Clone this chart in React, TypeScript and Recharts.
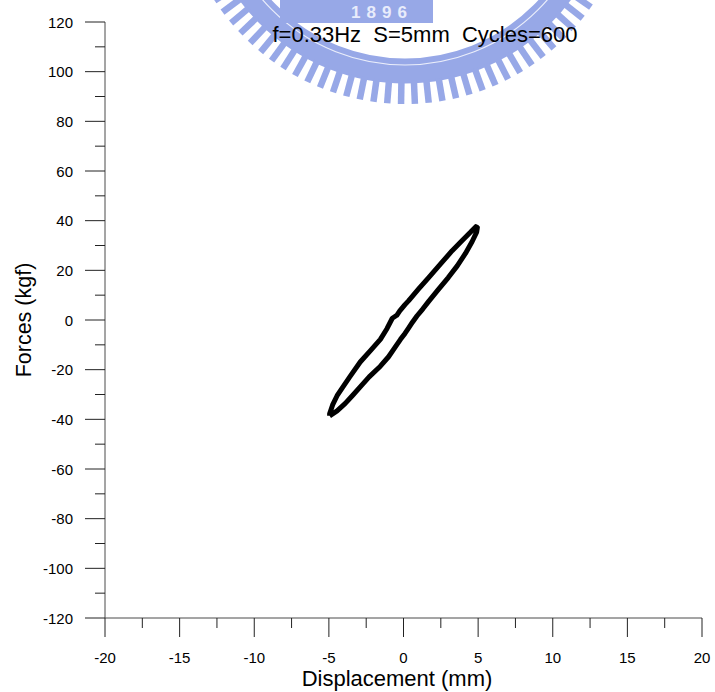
import React from "react";
import { Line, LineChart, XAxis, YAxis } from "recharts";

const WIDTH = 715;
const HEIGHT = 692;
const FONT = '"Liberation Sans", Arial, sans-serif';
const INK = "#000000";
const AXIS_LINE = "#4a4a4a";
const TICK = "#222222";
const SEAL = "#97a8e7";

const TITLE = "f=0.33Hz  S=5mm  Cycles=600";

const X_TICKS = [
  -20, -17.5, -15, -12.5, -10, -7.5, -5, -2.5, 0, 2.5, 5, 7.5, 10, 12.5, 15,
  17.5, 20,
];
const X_LABELED = [-20, -15, -10, -5, 0, 5, 10, 15, 20];
const Y_TICKS = [
  -120, -110, -100, -90, -80, -70, -60, -50, -40, -30, -20, -10, 0, 10, 20, 30,
  40, 50, 60, 70, 80, 90, 100, 110, 120,
];
const Y_LABELED = [-120, -100, -80, -60, -40, -20, 0, 20, 40, 60, 80, 100, 120];

// hysteresis loop: loading branch up the right side, unloading back down the left
const DISP = [
  -4.95, -4.7, -4.45, -3.9, -3.4, -2.9, -2.3, -1.55, -1.0, -0.5, -0.2, 0.1,
  0.35, 0.6, 0.9, 1.3, 1.7, 2.3, 3.0, 3.6, 4.15, 4.6, 4.9, 4.95,
  4.85, 4.5, 3.9, 3.26, 2.5, 1.7, 1.0, 0.35, 0.1, -0.25, -0.45, -0.75, -1.1,
  -1.55, -2.2, -2.9, -3.6, -4.1, -4.45, -4.75, -4.95, -4.95,
];
const FORCE = [
  -38.6, -37.6, -36.6, -33.6, -30.3, -26.9, -22.9, -18.6, -14.8, -10.4, -7.8,
  -5.4, -3.2, -0.9, 1.6, 4.5, 7.6, 12.0, 17.1, 21.8, 26.8, 31.6, 35.4, 37.3,
  37.6, 35.4, 31.8, 27.9, 22.7, 17.2, 12.4, 7.8, 6.2, 3.7, 1.9, 0.7, -3.4,
  -7.8, -12.2, -16.9, -22.9, -27.3, -30.5, -34.2, -37.8, -38.6,
];

const loop = DISP.map((d, i) => ({ d, f: FORCE[i] }));

function XTick({ x, y, payload }: any) {
  const major = X_LABELED.includes(payload.value);
  return (
    <g>
      <line x1={x} y1={y} x2={x} y2={y + (major ? 19 : 10)} stroke={TICK} />
      {major && (
        <text x={x} y={y + 45} textAnchor="middle" fontSize={15} fill={INK} fontFamily={FONT}>
          {String(payload.value)}
        </text>
      )}
    </g>
  );
}

function YTick({ x, y, payload }: any) {
  const major = Y_LABELED.includes(payload.value);
  return (
    <g>
      <line x1={x - (major ? 20 : 10)} y1={y} x2={x} y2={y} stroke={TICK} />
      {major && (
        <text x={x - 32} y={y + 5.5} textAnchor="end" fontSize={15} fill={INK} fontFamily={FONT}>
          {String(payload.value)}
        </text>
      )}
    </g>
  );
}

// faint toothed seal behind the title
function Seal() {
  const cx = 405;
  const cy = -123;
  const angles = Array.from({ length: 36 }, (_, i) => 28 + i * 3.5);
  return (
    <g>
      <circle cx={cx} cy={cy} r={194} fill="none" stroke={SEAL} strokeWidth={25} />
      <circle cx={cx} cy={cy} r={188} fill="none" stroke="#ffffff" strokeWidth={1.2} opacity={0.8} />
      {angles.map((a) => {
        const r = (a * Math.PI) / 180;
        return (
          <line
            key={a}
            x1={cx + Math.cos(r) * 204}
            y1={cy + Math.sin(r) * 204}
            x2={cx + Math.cos(r) * 227}
            y2={cy + Math.sin(r) * 227}
            stroke={SEAL}
            strokeWidth={6.5}
          />
        );
      })}
      <rect x={280} y={-2} width={153} height={25} fill={SEAL} />
      <text
        x={382}
        y={18}
        textAnchor="middle"
        fontSize={17}
        fontWeight="bold"
        letterSpacing={6}
        fill="#e8ecfb"
        fontFamily={FONT}
      >
        1896
      </text>
    </g>
  );
}

export default function App() {
  return (
    <div style={{ position: "absolute", left: 0, top: 0, width: WIDTH, height: HEIGHT, background: "#fff" }}>
      <svg width={WIDTH} height={HEIGHT} style={{ position: "absolute", left: 0, top: 0 }}>
        <Seal />
        <text x={425} y={42} textAnchor="middle" fontSize={22} fill={INK} fontFamily={FONT} style={{ whiteSpace: "pre" }}>
          {TITLE}
        </text>
      </svg>
      <div style={{ position: "absolute", left: 0, top: 0 }}>
        <LineChart width={WIDTH} height={HEIGHT} data={loop} margin={{ top: 22, right: 13, bottom: 0, left: 0 }}>
          <XAxis
            dataKey="d"
            type="number"
            domain={[-20, 20]}
            ticks={X_TICKS}
            interval={0}
            height={74}
            tickSize={0}
            tickMargin={0}
            tickLine={false}
            axisLine={{ stroke: AXIS_LINE }}
            tick={<XTick />}
            label={{
              content: () => (
                <text x={397} y={686} textAnchor="middle" fontSize={22} fill={INK} fontFamily={FONT}>
                  Displacement (mm)
                </text>
              ),
            }}
          />
          <YAxis
            dataKey="f"
            type="number"
            domain={[-120, 120]}
            ticks={Y_TICKS}
            interval={0}
            width={105}
            tickSize={0}
            tickMargin={0}
            tickLine={false}
            axisLine={{ stroke: AXIS_LINE }}
            tick={<YTick />}
            label={{
              content: () => (
                <text
                  x={30.5}
                  y={320}
                  transform="rotate(-90 30.5 320)"
                  textAnchor="middle"
                  fontSize={21.5}
                  fill={INK}
                  fontFamily={FONT}
                >
                  Forces (kgf)
                </text>
              ),
            }}
          />
          <Line
            dataKey="f"
            stroke="#000"
            strokeWidth={5}
            strokeLinejoin="round"
            dot={false}
            isAnimationActive={false}
          />
        </LineChart>
      </div>
    </div>
  );
}
